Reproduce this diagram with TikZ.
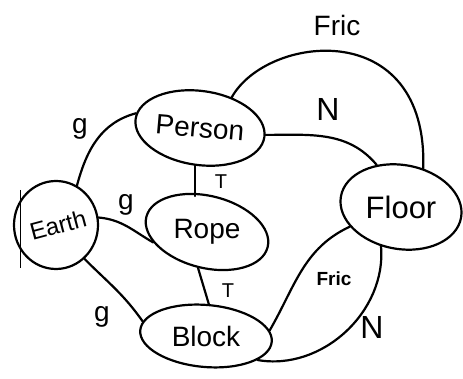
\documentclass[tikz,border=0pt]{standalone}
\usepackage{fontspec}
\setmainfont{Liberation Sans}
\usetikzlibrary{shapes.geometric}
\begin{document}
\begin{tikzpicture}[x=1pt,y=1pt,
  ent/.style={ellipse,draw,line width=2.2pt,inner sep=0pt},
  nm/.style={font=\fontsize{28}{30}\selectfont},
  con/.style={line width=2.2pt,line cap=round},
  el/.style={font=\fontsize{28}{30}\selectfont},
  sl/.style={font=\fontsize{20}{22}\selectfont}]
\useasboundingbox (0,0) rectangle (463,379);
% entities
\node[ent,minimum width=130pt,minimum height=74pt,rotate=-8] (P) at (200,251) {};
\node[ent,minimum width=84pt,minimum height=88pt] (E) at (56,154) {};
\node[ent,minimum width=125pt,minimum height=72pt,rotate=-14] (R) at (207,147) {};
\node[ent,minimum width=132pt,minimum height=62pt,rotate=-5] (B) at (206,43) {};
\node[ent,minimum width=122pt,minimum height=84pt,rotate=-10] (F) at (401,172) {};
\node[nm,rotate=-5] (Pt) at (P) {Person};
\node[nm,rotate=15,font=\fontsize{24}{26}\selectfont] (Et) at (58,154) {Earth};
\node[nm] (Rt) at (R) {Rope};
\node[nm] (Bt) at (B) {Block};
\node[nm,font=\fontsize{31}{33}\selectfont] (Ft) at (F) {Floor};
% connectors
\draw[con] (P.175) to[out=195,in=75] (E.62);
\draw[con] (P.2) to[out=0,in=130] (F.130);
\draw[con] (P.52) .. controls +(35,63) and +(5,153) .. (F.70);
\draw[con] (P.south) -- (P.south |- R.north);
\draw[con] (E.10) to[out=-5,in=150] (R.205);
\draw[con] (R.south) -- (B.north);
\draw[con] (E.-50) to[out=-45,in=125] (B.172);
\draw[con] (F.211) to[out=205,in=60] (B.10);
\draw[con] (F.253) to[out=-85,in=-10] (B.-20);
\draw[line width=0.8pt] (20,189) -- (20,111);
% labels
\node[el] (l1) at (80,250) {g};
\node[el,font=\fontsize{32}{34}\selectfont] (l2) at (328,270) {N};
\node[el] (l3) at (337,353) {Fric};
\node[sl] (l4) at (221,197) {T};
\node[el] (l5) at (126,174) {g};
\node[sl] (l6) at (228,88) {T};
\node[el] (l7) at (102,62) {g};
\node[sl,font=\bfseries\fontsize{19}{21}\selectfont] (l8) at (334,100) {Fric};
\node[el,font=\fontsize{32}{34}\selectfont] (l9) at (372,52) {N};
\end{tikzpicture}
\end{document}
